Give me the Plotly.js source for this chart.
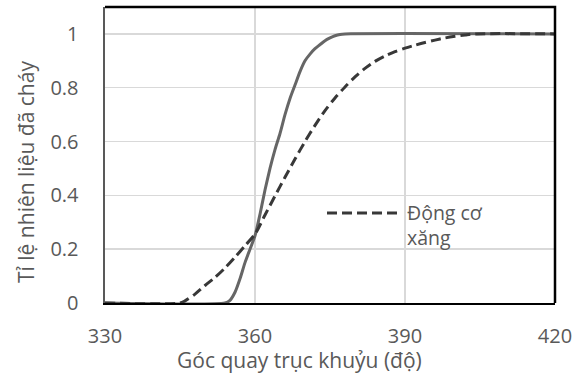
<!DOCTYPE html>
<html>
<head>
<meta charset="utf-8">
<script src="https://cdn.plot.ly/plotly-3.0.1.min.js"></script>
<style>html,body{margin:0;padding:0;background:#fff;}#chart{width:582px;height:376px;}</style>
</head>
<body>
<div id="chart"></div>
<script>
// Diesel-like curve (solid)
const solidX = [330, 354, 355, 356, 357, 358, 359, 360, 361, 362, 363, 364, 365, 366, 367, 368, 369, 370, 371, 372, 373, 374, 375, 376, 377, 378, 420];
const solidY = [0, 0, 0.01, 0.04, 0.09, 0.15, 0.2, 0.25, 0.33, 0.42, 0.5, 0.57, 0.63, 0.7, 0.76, 0.81, 0.86, 0.9, 0.925, 0.945, 0.96, 0.975, 0.985, 0.993, 0.998, 1, 1];
// Petrol engine curve (dashed)
const dashX = [330, 345, 346, 348, 350, 352, 354, 356, 358, 360, 362, 364, 366, 368, 370, 372, 374, 376, 378, 380, 382, 384, 386, 388, 390, 392, 394, 396, 398, 400, 402, 404, 420];
const dashY = [0, 0, 0.008, 0.033, 0.065, 0.095, 0.13, 0.17, 0.213, 0.256, 0.327, 0.398, 0.467, 0.535, 0.6, 0.66, 0.715, 0.762, 0.803, 0.84, 0.872, 0.898, 0.918, 0.934, 0.947, 0.958, 0.968, 0.977, 0.985, 0.991, 0.996, 1, 1];
const xTicks = [330, 360, 390, 420];
const yTicks = [0, 0.2, 0.4, 0.6, 0.8, 1];
const yTickText = ['0', '0.2', '0.4', '0.6', '0.8', '1'];
const legendName = 'Động cơ<br>xăng';
const xTitle = 'Góc quay trục khuỷu (độ)';
const yTitle = 'Tỉ lệ nhiên liệu đã cháy';

const FONT = 'Open Sans, Noto Sans, sans-serif';
const W = 582, H = 376, L = 105, R = 27, T = 7, B = 73;
const pw = W - L - R, ph = H - T - B;
const px = v => (v - L) / pw;
const py = v => (H - B - v) / ph;

const traces = [
  {x: solidX, y: solidY, mode: 'lines', line: {color: '#666666', width: 3, shape: 'spline', smoothing: 0.6}, showlegend: false, hoverinfo: 'skip'},
  {x: dashX, y: dashY, mode: 'lines', line: {color: '#383838', width: 3, dash: '10px,5px', shape: 'spline', smoothing: 0.8}, showlegend: false, hoverinfo: 'skip'}
];

const layout = {
  width: W, height: H,
  margin: {l: L, r: R, t: T, b: B, pad: 0},
  paper_bgcolor: '#ffffff', plot_bgcolor: '#ffffff',
  font: {family: FONT, size: 19, color: '#595959'},
  showlegend: false,
  xaxis: {
    range: [330, 420], tickvals: xTicks, ticktext: xTicks.map(String),
    showgrid: true, gridcolor: '#d9d9d9', gridwidth: 1.5,
    zeroline: false, showline: true, linecolor: '#000000', linewidth: 1.5,
    ticks: '', ticklabelstandoff: 14,
    tickfont: {family: FONT, size: 20, color: '#595959'}
  },
  yaxis: {
    range: [0, 1.1], tickvals: yTicks, ticktext: yTickText,
    showgrid: true, gridcolor: '#d9d9d9', gridwidth: 1.5,
    zeroline: false, showline: true, linecolor: '#595959', linewidth: 2.5,
    ticks: '', ticklabelstandoff: 20,
    tickfont: {family: FONT, size: 20, color: '#595959'}
  },
  shapes: [
    {type: 'path', xref: 'paper', yref: 'paper', path: 'M 0 1 L 1 1 L 1 0', line: {color: '#000000', width: 2.5}, layer: 'above'},
    {type: 'rect', xref: 'paper', yref: 'paper', x0: px(287), x1: px(535), y0: py(258), y1: py(197), fillcolor: '#ffffff', line: {width: 0}, layer: 'between'},
    {type: 'line', xref: 'paper', yref: 'paper', x0: px(327), x1: px(402), y0: py(213), y1: py(213), line: {color: '#383838', width: 3, dash: '10px,5px'}, layer: 'above'}
  ],
  annotations: [
    {text: legendName, xref: 'paper', yref: 'paper', x: px(405), y: py(225), xanchor: 'left', yanchor: 'middle', align: 'left', showarrow: false, font: {family: FONT, size: 19.5, color: '#595959'}},
    {text: xTitle, xref: 'paper', yref: 'paper', x: px(299), y: py(360), xanchor: 'center', yanchor: 'middle', showarrow: false, font: {family: FONT, size: 21, color: '#595959'}},
    {text: yTitle, xref: 'paper', yref: 'paper', x: px(26), y: py(172), xanchor: 'center', yanchor: 'middle', textangle: -90, showarrow: false, font: {family: FONT, size: 21, color: '#595959'}}
  ]
};

Plotly.newPlot('chart', traces, layout, {staticPlot: true, displayModeBar: false});
</script>
</body>
</html>
